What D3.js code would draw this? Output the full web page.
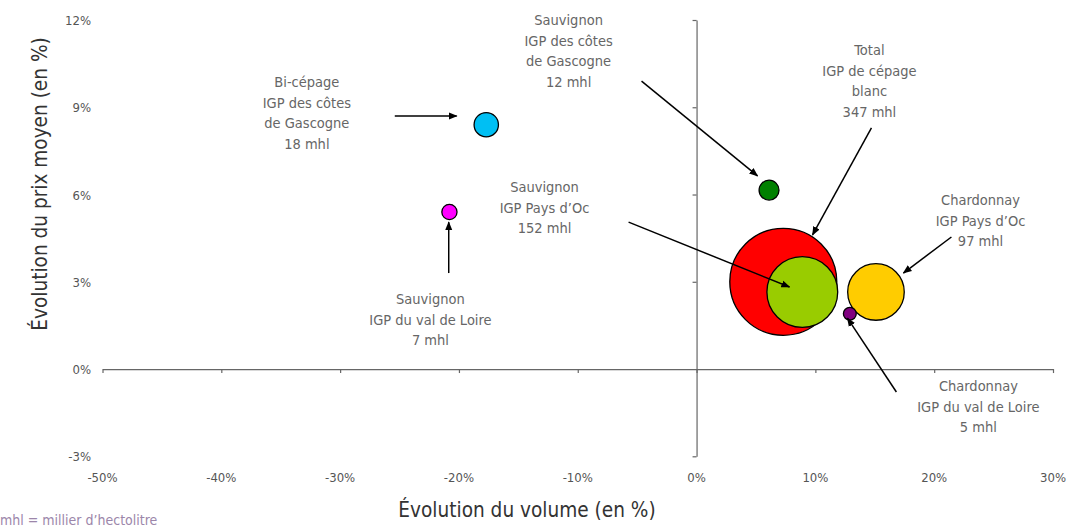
<!DOCTYPE html>
<html>
<head>
<meta charset="utf-8">
<script src="https://cdn.jsdelivr.net/npm/d3@7"></script>
<style>
  body { margin: 0; background: #fff; }
  svg { font-family: "Liberation Sans Narrow", "DejaVu Sans Condensed", "Liberation Sans", sans-serif; }
  .tick-label { fill: #555; font-size: 13px; }
  .axis-title { fill: #333; font-size: 20.6px; }
  .note { fill: #666; font-size: 14.5px; }
  .footnote { fill: #9c86aa; font-size: 14px; }
</style>
</head>
<body>
<svg id="chart"></svg>
<script>
'use strict';

const width = 1075;
const height = 532;

// bubbles: volume change (%), price change (%), volume (mhl)
const names = ['Total IGP de cépage blanc', 'Sauvignon IGP Pays d\u2019Oc', 'Chardonnay IGP Pays d\u2019Oc',
    'Bi-cépage IGP des côtes de Gascogne', 'Sauvignon IGP des côtes de Gascogne',
    'Sauvignon IGP du val de Loire', 'Chardonnay IGP du val de Loire'];
const volumeChange = [7.3, 8.9, 15.1, -17.7, 6.1, -20.8, 12.9];
const priceChange = [3.0, 2.65, 2.65, 8.4, 6.15, 5.4, 1.9];
const volumes = [347, 152, 97, 18, 12, 7, 5];
const colors = ['#ff0000', '#99cc00', '#ffcc00', '#00bff3', '#008000', '#ff00ff', '#800080'];

// annotations: text lines, label anchor, arrow start / end (data units)
const labelLines = [
    ['Total', 'IGP de cépage', 'blanc', '347 mhl'],
    ['Sauvignon', 'IGP Pays d\u2019Oc', '152 mhl'],
    ['Chardonnay', 'IGP Pays d\u2019Oc', '97 mhl'],
    ['Bi-cépage', 'IGP des côtes', 'de Gascogne', '18 mhl'],
    ['Sauvignon', 'IGP des côtes', 'de Gascogne', '12 mhl'],
    ['Sauvignon', 'IGP du val de Loire', '7 mhl'],
    ['Chardonnay', 'IGP du val de Loire', '5 mhl']
];
const labelAt = [[14.55, 10.97], [-12.8, 6.26], [23.9, 5.81], [-32.8, 9.87], [-10.77, 12.0], [-22.4, 2.41], [23.72, -0.58]];
const arrowFrom = [[14.72, 8.29], [-5.72, 5.05], [21.45, 4.54], [-25.4, 8.7], [-4.63, 9.9], [-20.86, 3.3], [16.82, -0.79]];
const arrowTo = [[9.76, 4.61], [7.82, 2.82], [17.41, 3.3], [-20.19, 8.7], [5.13, 6.64], [-20.86, 5.05], [12.7, 1.75]];

const xTicks = [-50, -40, -30, -20, -10, 0, 10, 20, 30];
const yTicks = [-3, 0, 3, 6, 9, 12];

const svg = d3.select('#chart').attr('width', width).attr('height', height);

const x = d3.scaleLinear().domain([-50, 30]).range([102.5, 1053]);
const y = d3.scaleLinear().domain([-3, 12]).range([456.3, 20]);
const r = d3.scaleSqrt().domain([0, 347]).range([0, 53.5]);

// axes crossing at zero
const xAxis = svg.append('g')
    .attr('transform', `translate(0, ${y(0)})`)
    .call(d3.axisBottom(x).tickValues(xTicks).tickSize(4).tickSizeOuter(0).tickFormat(''));
const yAxis = svg.append('g')
    .attr('transform', `translate(${x(0)}, 0)`)
    .call(d3.axisLeft(y).tickValues(yTicks).tickSize(4).tickSizeOuter(0).tickFormat(''));
[xAxis, yAxis].forEach(g => {
    g.selectAll('path, line').attr('stroke', '#666').attr('stroke-width', 1.2);
});
yAxis.selectAll('.tick').filter(d => d === 0).remove();

// tick labels placed at the low side, Excel style
svg.append('g').selectAll('text')
    .data(xTicks)
    .join('text')
    .attr('class', 'tick-label')
    .attr('x', d => x(d))
    .attr('y', 482)
    .attr('text-anchor', 'middle')
    .text(d => `${d}%`);
svg.append('g').selectAll('text')
    .data(yTicks)
    .join('text')
    .attr('class', 'tick-label')
    .attr('x', 91)
    .attr('y', d => y(d) + 5)
    .attr('text-anchor', 'end')
    .text(d => `${d}%`);

svg.append('text').attr('class', 'axis-title')
    .attr('x', 527).attr('y', 517).attr('text-anchor', 'middle')
    .text('Évolution du volume (en %)');
svg.append('text').attr('class', 'axis-title')
    .attr('transform', 'translate(47, 184) rotate(-90)').attr('text-anchor', 'middle')
    .text('Évolution du prix moyen (en %)');
svg.append('text').attr('class', 'footnote')
    .attr('x', 0).attr('y', 525)
    .text('mhl = millier d\u2019hectolitre');

// bubbles
svg.append('g').selectAll('circle')
    .data(d3.range(names.length))
    .join('circle')
    .attr('cx', i => x(volumeChange[i]))
    .attr('cy', i => y(priceChange[i]))
    .attr('r', i => r(volumes[i]))
    .attr('fill', i => colors[i])
    .attr('stroke', '#000')
    .attr('stroke-width', 1.3);

// arrows
svg.append('defs').append('marker')
    .attr('id', 'head')
    .attr('viewBox', '0 0 10 10')
    .attr('refX', 9).attr('refY', 5)
    .attr('markerWidth', 6).attr('markerHeight', 6)
    .attr('markerUnits', 'strokeWidth')
    .attr('orient', 'auto')
    .append('path').attr('d', 'M0,1 L10,5 L0,9 Z').attr('fill', '#000');

svg.append('g').selectAll('line')
    .data(d3.range(names.length))
    .join('line')
    .attr('x1', i => x(arrowFrom[i][0]))
    .attr('y1', i => y(arrowFrom[i][1]))
    .attr('x2', i => x(arrowTo[i][0]))
    .attr('y2', i => y(arrowTo[i][1]))
    .attr('stroke', '#000')
    .attr('stroke-width', 1.5)
    .attr('marker-end', 'url(#head)');

// labels
const notes = svg.append('g').selectAll('text')
    .data(d3.range(names.length))
    .join('text')
    .attr('class', 'note')
    .attr('text-anchor', 'middle')
    .attr('x', i => x(labelAt[i][0]))
    .attr('y', i => y(labelAt[i][1]) + 5);
notes.selectAll('tspan')
    .data(i => labelLines[i].map(line => ({line, i})))
    .join('tspan')
    .attr('x', d => x(labelAt[d.i][0]))
    .attr('dy', (d, k) => k === 0 ? 0 : 20.7)
    .text(d => d.line);
</script>
</body>
</html>
